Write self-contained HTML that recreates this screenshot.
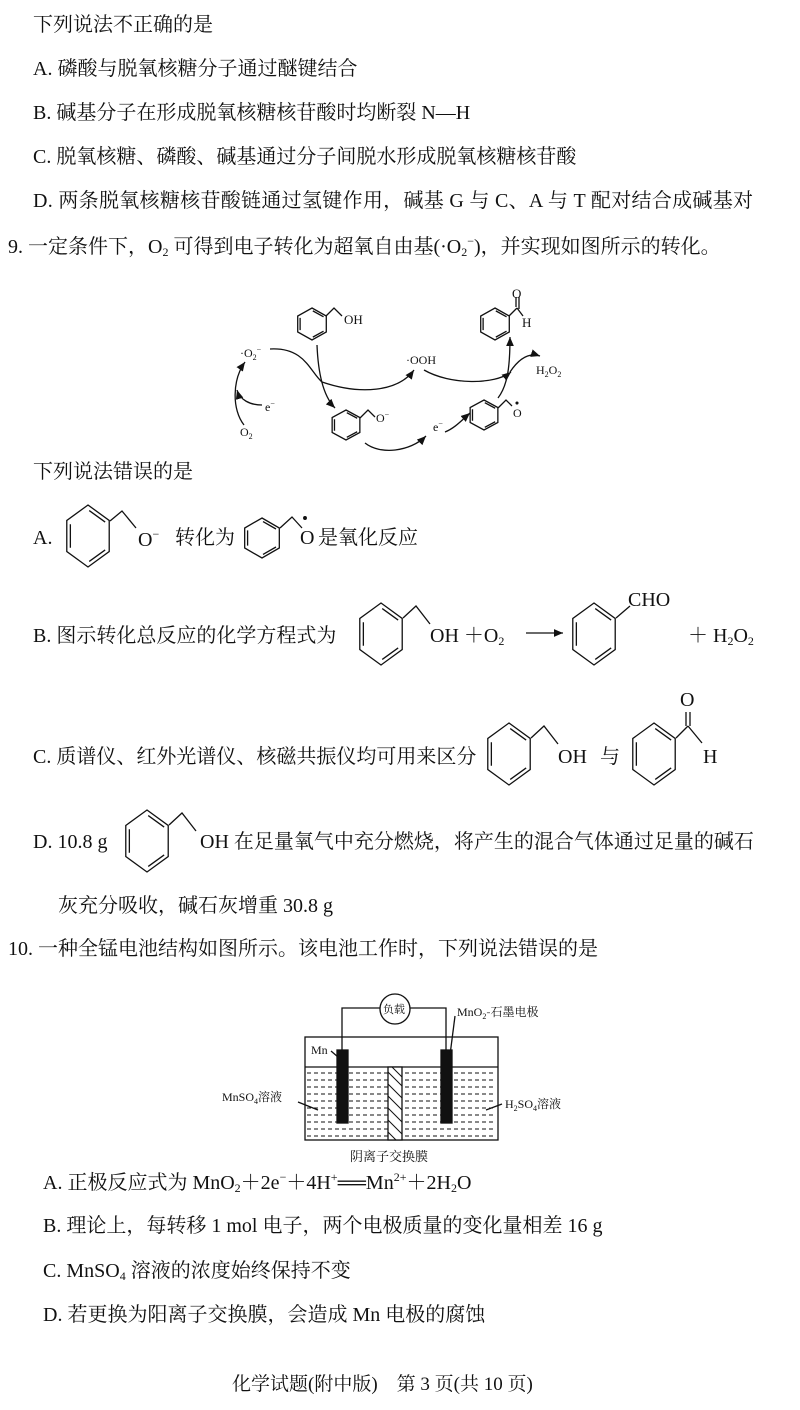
<!DOCTYPE html>
<html><head><meta charset="utf-8"><style>
body{margin:0;width:800px;height:1410px;background:#fff;position:relative;overflow:hidden;font-family:"Liberation Serif","Noto Serif CJK SC",serif;color:#111}
.t{position:absolute;font-size:20px;white-space:nowrap;line-height:1}
svg{position:absolute;left:0;top:0}
sub{font-size:12px;vertical-align:-3px}
sup{font-size:12px;vertical-align:8px}
</style></head><body>
<div class="t" style="left:33px;top:15px">下列说法不正确的是</div>
<div class="t" style="left:33px;top:59px">A. 磷酸与脱氧核糖分子通过醚键结合</div>
<div class="t" style="left:33px;top:103px">B. 碱基分子在形成脱氧核糖核苷酸时均断裂 N—H</div>
<div class="t" style="left:33px;top:147px">C. 脱氧核糖、磷酸、碱基通过分子间脱水形成脱氧核糖核苷酸</div>
<div class="t" style="left:33px;top:191px;letter-spacing:0.3px">D. 两条脱氧核糖核苷酸链通过氢键作用，碱基 G 与 C、A 与 T 配对结合成碱基对</div>
<div class="t" style="left:8px;top:235px">9. 一定条件下，O<sub>2</sub> 可得到电子转化为超氧自由基(·O<sub>2</sub><sup>−</sup>)，并实现如图所示的转化。</div>
<div class="t" style="left:33px;top:462px">下列说法错误的是</div>
<div class="t" style="left:33px;top:528px">A.</div>
<div class="t" style="left:138px;top:528px">O<sup>−</sup></div>
<div class="t" style="left:175px;top:528px">转化为</div>
<div class="t" style="left:300px;top:528px">O</div>
<div class="t" style="left:318px;top:528px">是氧化反应</div>
<div class="t" style="left:33px;top:626px">B. 图示转化总反应的化学方程式为</div>
<div class="t" style="left:430px;top:626px">OH ＋O<sub>2</sub></div>
<div class="t" style="left:628px;top:590px">CHO</div>
<div class="t" style="left:688px;top:626px">＋ H<sub>2</sub>O<sub>2</sub></div>
<div class="t" style="left:33px;top:747px">C. 质谱仪、红外光谱仪、核磁共振仪均可用来区分</div>
<div class="t" style="left:558px;top:747px">OH</div>
<div class="t" style="left:600px;top:747px">与</div>
<div class="t" style="left:680px;top:690px">O</div>
<div class="t" style="left:703px;top:747px">H</div>
<div class="t" style="left:33px;top:832px">D. 10.8 g</div>
<div class="t" style="left:200px;top:832px">OH 在足量氧气中充分燃烧，将产生的混合气体通过足量的碱石</div>
<div class="t" style="left:58px;top:896px">灰充分吸收，碱石灰增重 30.8 g</div>
<div class="t" style="left:8px;top:939px">10. 一种全锰电池结构如图所示。该电池工作时，下列说法错误的是</div>
<div class="t" style="left:43px;top:1171px">A. 正极反应式为 MnO<sub>2</sub>＋2e<sup>−</sup>＋4H<sup>+</sup>══Mn<sup>2+</sup>＋2H<sub>2</sub>O</div>
<div class="t" style="left:43px;top:1216px">B. 理论上，每转移 1 mol 电子，两个电极质量的变化量相差 16 g</div>
<div class="t" style="left:43px;top:1261px">C. MnSO<sub>4</sub> 溶液的浓度始终保持不变</div>
<div class="t" style="left:43px;top:1305px">D. 若更换为阳离子交换膜，会造成 Mn 电极的腐蚀</div>
<div class="t" style="left:232px;top:1375px;font-size:19px">化学试题(附中版)　第 3 页(共 10 页)</div>

<svg width="800" height="1410" viewBox="0 0 800 1410" font-family="Liberation Serif" fill="none" stroke="#111" stroke-width="1.3">
<defs>
<marker id="ar" markerWidth="8" markerHeight="8" refX="7" refY="4" orient="auto"><path d="M0,1 L7,4 L0,7 z" fill="#111" stroke="none"/></marker>
<g id="r">
<polygon points="0,-1 0.866,-0.5 0.866,0.5 0,1 -0.866,0.5 -0.866,-0.5" vector-effect="non-scaling-stroke"/>
<path d="M0.05,-0.82 L0.7,-0.45 M0.7,0.45 L0.05,0.82 M-0.72,-0.38 L-0.72,0.38" vector-effect="non-scaling-stroke"/>
</g>
</defs>
<!-- top diagram -->
<use href="#r" transform="translate(312,324) scale(16.5,16)"/>
<path d="M326,316 L334,308 L342,316"/>
<text x="344" y="324" font-size="13" fill="#111" stroke="none">OH</text>
<use href="#r" transform="translate(495,324) scale(16.5,16)"/>
<path d="M509,316 L517,308 M516,307 L516,297 M519,309 L519,297 M517,308 L523,316"/>
<text x="512" y="298" font-size="13" fill="#111" stroke="none">O</text>
<text x="522" y="327" font-size="13" fill="#111" stroke="none">H</text>
<text x="240" y="357" font-size="12" fill="#111" stroke="none">·O<tspan font-size="8" dy="3">2</tspan><tspan font-size="8" dy="-8">−</tspan></text>
<text x="406" y="364" font-size="12" fill="#111" stroke="none">·OOH</text>
<text x="536" y="374" font-size="12" fill="#111" stroke="none">H<tspan font-size="8" dy="3">2</tspan><tspan dy="-3">O</tspan><tspan font-size="8" dy="3">2</tspan></text>
<use href="#r" transform="translate(346,425) scale(16,15)"/>
<path d="M360,418 L368,410 L375,417"/>
<text x="376" y="422" font-size="12" fill="#111" stroke="none">O<tspan font-size="8" dy="-5">−</tspan></text>
<use href="#r" transform="translate(484,415) scale(16,15)"/>
<path d="M498,408 L506,400 L512,406"/>
<text x="513" y="417" font-size="12" fill="#111" stroke="none">O</text>
<circle cx="517" cy="403" r="0.9" fill="#111"/>
<text x="265" y="411" font-size="12" fill="#111" stroke="none">e<tspan font-size="8" dy="-5">−</tspan></text>
<text x="240" y="436" font-size="12" fill="#111" stroke="none">O<tspan font-size="8" dy="3">2</tspan></text>
<text x="433" y="431" font-size="12" fill="#111" stroke="none">e<tspan font-size="8" dy="-5">−</tspan></text>
<path d="M270,349 C305,347 310,372 322,382 C360,395 398,392 414,370" marker-end="url(#ar)"/>
<path d="M317,345 C318,370 322,395 335,408" marker-end="url(#ar)"/>
<path d="M424,370 C450,385 495,385 511,372" marker-end="url(#ar)"/>
<path d="M498,398 C508,385 510,365 510,337" marker-end="url(#ar)"/>
<path d="M510,372 C518,360 528,352 540,356" marker-end="url(#ar)"/>
<path d="M365,443 C380,455 410,452 426,436" marker-end="url(#ar)"/>
<path d="M445,432 C455,428 462,420 470,413" marker-end="url(#ar)"/>
<path d="M244,425 C232,410 232,380 245,362" marker-end="url(#ar)"/>
<path d="M262,405 C250,405 240,400 237,390" marker-end="url(#ar)"/>
<!-- option rings -->
<use href="#r" transform="translate(88,536) scale(24.5,31)"/>
<path d="M110,521 L122,511 L136,528"/>
<use href="#r" transform="translate(262,538) scale(20,20)"/>
<path d="M280,528 L292,517 L302,528"/>
<circle cx="305" cy="518" r="1.3" fill="#111"/>
<use href="#r" transform="translate(381,634) scale(24.5,31)"/>
<path d="M403,618 L416,606 L430,624"/>
<path d="M526,633 L563,633" marker-end="url(#ar)"/>
<use href="#r" transform="translate(594,634) scale(24.5,31)"/>
<path d="M616,618 L630,606"/>
<use href="#r" transform="translate(509,754) scale(24.5,31)"/>
<path d="M531,738 L544,726 L558,744"/>
<use href="#r" transform="translate(654,754) scale(24.5,31)"/>
<path d="M676,738 L688,726 M686,726 L686,712 M690,726 L690,712 M688,726 L702,743"/>
<use href="#r" transform="translate(147,841) scale(24.5,31)"/>
<path d="M169,825 L182,813 L196,831"/>
<!-- battery -->
<rect x="305" y="1037" width="193" height="103"/>
<line x1="305" y1="1067" x2="498" y2="1067"/>
<g stroke-dasharray="4,3" stroke-width="1">
<path d="M307,1073H496M307,1080H496M307,1087H496M307,1094H496M307,1101H496M307,1108H496M307,1115H496M307,1122H496M307,1129H496M307,1136H496"/>
</g>
<rect x="388" y="1067" width="14" height="73" fill="#fff"/>
<g stroke-width="1"><path d="M388,1072 L402,1086 M388,1084 L402,1098 M388,1096 L402,1110 M388,1108 L402,1122 M388,1120 L402,1134 M388,1132 L396,1140 M392,1067 L402,1077"/></g>
<rect x="337" y="1050" width="11" height="73" fill="#111"/>
<rect x="441" y="1050" width="11" height="73" fill="#111"/>
<path d="M342,1050 V1008 H380 M410,1008 H446 V1050"/>
<circle cx="395" cy="1009" r="15" fill="#fff"/>
<text x="383" y="1013" font-size="11" fill="#111" stroke="none" font-family="Noto Serif CJK SC">负载</text>
<text x="457" y="1016" font-size="12" fill="#111" stroke="none">MnO<tspan font-size="8" dy="3">2</tspan><tspan dy="-3" font-family="Noto Serif CJK SC">-石墨电极</tspan></text>
<path d="M455,1016 L450,1055"/>
<text x="311" y="1054" font-size="12" fill="#111" stroke="none">Mn</text>
<path d="M331,1051 L338,1057"/>
<text x="222" y="1101" font-size="12" fill="#111" stroke="none">MnSO<tspan font-size="8" dy="3">4</tspan><tspan dy="-3" font-family="Noto Serif CJK SC">溶液</tspan></text>
<path d="M298,1102 L318,1110"/>
<text x="505" y="1108" font-size="12" fill="#111" stroke="none">H<tspan font-size="8" dy="3">2</tspan><tspan dy="-3">SO</tspan><tspan font-size="8" dy="3">4</tspan><tspan dy="-3" font-family="Noto Serif CJK SC">溶液</tspan></text>
<path d="M502,1104 L486,1110"/>
<text x="350" y="1161" font-size="13" fill="#111" stroke="none" font-family="Noto Serif CJK SC">阴离子交换膜</text>
</svg>
</body></html>
